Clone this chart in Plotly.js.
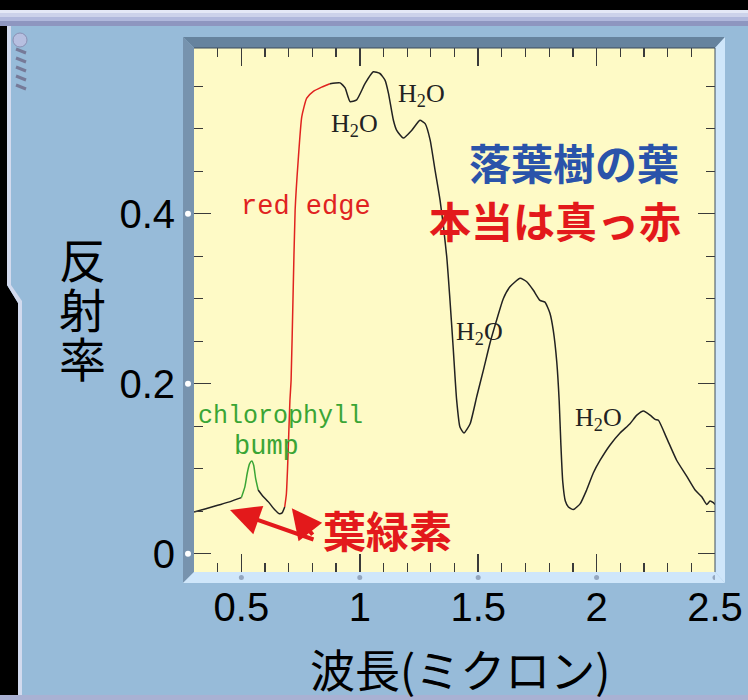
<!DOCTYPE html>
<html><head><meta charset="utf-8">
<script src="https://cdn.plot.ly/plotly-3.0.1.min.js"></script>
<style>html,body{margin:0;padding:0;background:#97bbd9;}#chart{width:748px;height:700px;}</style>
</head><body><div id="chart"></div>
<script>
// ---- data (wavelength in microns, reflectance) ----
const baseX = [0.30, 0.35, 0.40, 0.45, 0.50];
const baseY = [0.049, 0.053, 0.057, 0.061, 0.066];
const chloroX = [0.50, 0.515, 0.525, 0.535, 0.544, 0.552, 0.560, 0.571];
const chloroY = [0.066, 0.079, 0.095, 0.106, 0.109, 0.104, 0.089, 0.075];
const dipX = [0.571, 0.59, 0.614, 0.64, 0.66, 0.672, 0.683];
const dipY = [0.075, 0.068, 0.061, 0.052, 0.047, 0.048, 0.055];
const edgeX = [0.683, 0.690, 0.695, 0.700, 0.705, 0.710, 0.718, 0.727, 0.740, 0.755, 0.776, 0.804, 0.839, 0.874];
const edgeY = [0.055, 0.070, 0.100, 0.140, 0.180, 0.204, 0.300, 0.404, 0.463, 0.514, 0.536, 0.544, 0.549, 0.553];
const nirX = [0.874, 0.917, 0.938, 0.959, 0.987, 1.022, 1.057, 1.085, 1.107, 1.121, 1.142, 1.156, 1.184, 1.219, 1.254, 1.276, 1.297, 1.318, 1.339, 1.367, 1.381, 1.395, 1.409, 1.423, 1.440, 1.466, 1.494, 1.522, 1.550, 1.578, 1.606, 1.634, 1.677, 1.705, 1.733, 1.761, 1.782, 1.803, 1.817, 1.832, 1.842, 1.849, 1.857, 1.868, 1.881, 1.902, 1.931, 1.958, 1.986, 2.015, 2.057, 2.099, 2.141, 2.170, 2.198, 2.226, 2.247, 2.261, 2.296, 2.338, 2.381, 2.416, 2.444, 2.465, 2.479, 2.493, 2.500];
const nirY = [0.553, 0.554, 0.548, 0.532, 0.534, 0.553, 0.567, 0.565, 0.557, 0.542, 0.510, 0.498, 0.489, 0.498, 0.510, 0.506, 0.487, 0.451, 0.416, 0.350, 0.298, 0.240, 0.181, 0.149, 0.142, 0.153, 0.185, 0.216, 0.248, 0.275, 0.300, 0.314, 0.324, 0.320, 0.310, 0.298, 0.296, 0.283, 0.263, 0.225, 0.180, 0.130, 0.085, 0.062, 0.055, 0.052, 0.059, 0.075, 0.095, 0.110, 0.128, 0.142, 0.153, 0.163, 0.168, 0.163, 0.158, 0.157, 0.136, 0.110, 0.091, 0.075, 0.067, 0.058, 0.062, 0.060, 0.058];

const xTickVals = [0.5, 1, 1.5, 2, 2.5];
const xTickText = ['0.5', '1', '1.5', '2', '2.5'];
const yTickVals = [0, 0.2, 0.4];
const yTickText = ['0', '0.2', '0.4'];

const waterLabels = [
  {x: 0.976, y: 0.505}, {x: 1.259, y: 0.540}, {x: 1.507, y: 0.260}, {x: 2.008, y: 0.158}
];

// ---- pixel helpers for frame decorations ----
const L = 194, R = 715, T = 48, B = 572;
const px = v => (v - L) / (R - L);
const py = v => (B - v) / (B - T);
function poly(pts, color) {
  return {type: 'path', xref: 'paper', yref: 'paper', layer: 'above',
    path: 'M' + pts.map(p => px(p[0]) + ',' + py(p[1])).join('L') + 'Z',
    fillcolor: color, line: {width: 0}};
}
function rect(x0, y0, x1, y1, color) {
  return {type: 'rect', xref: 'paper', yref: 'paper', layer: 'above',
    x0: px(x0), x1: px(x1), y0: py(y0), y1: py(y1), fillcolor: color, line: {width: 0}};
}

const shapes = [
  // bevel frame
  poly([[183,37],[725,37],[715,48],[194,48]], '#66839e'),
  poly([[183,37],[194,48],[194,572],[183,583]], '#7793ae'),
  poly([[725,37],[725,583],[715,572],[715,48]], '#cfe6fa'),
  poly([[183,583],[725,583],[715,572],[194,572]], '#cfe6fa'),
  {type: 'line', xref: 'paper', yref: 'paper', x0: 0, x1: 1, y0: 1, y1: 1, line: {color: '#3c4c5c', width: 1.2}},
  {type: 'line', xref: 'paper', yref: 'paper', x0: 1, x1: 1, y0: 0, y1: 1, line: {color: '#3c4c5c', width: 1}},
  // window chrome
  rect(0, 0, 748, 10, '#000000'),
  rect(0, 10, 748, 13, '#e4e8f6'),
  rect(0, 13, 748, 17, '#ccd2ea'),
  rect(0, 17, 748, 21, '#b0b8dc'),
  rect(0, 21, 748, 26, '#8e96c0'),
  poly([[0,26],[7,26],[7,285],[18,303],[18,700],[0,700]], '#000000'),
  poly([[7,26],[11,26],[11,285],[22,301],[22,700],[18,700],[18,303],[7,285]], '#d2daee'),
  rect(0, 695, 748, 700, '#a9b1d3'),
  {type: 'circle', xref: 'paper', yref: 'paper', layer: 'above',
    x0: px(13), x1: px(27), y0: py(33), y1: py(47), fillcolor: '#b7bfe0', line: {color: '#8a90b4', width: 1}}
];
for (let i = 0; i < 5; i++) {
  const yy = 49 + i * 9;
  shapes.push({type: 'line', xref: 'paper', yref: 'paper', layer: 'above',
    x0: px(16), y0: py(yy), x1: px(26), y1: py(yy + 4), line: {color: '#767a98', width: 3}});
}
// dots on frame at tick positions
xTickVals.forEach(v => shapes.push({type: 'circle', xref: 'x', yref: 'paper', layer: 'above',
  xsizemode: 'pixel', ysizemode: 'pixel', xanchor: v, yanchor: 0,
  x0: -2.5, x1: 2.5, y0: -8, y1: -3, fillcolor: '#93a6bf', line: {width: 0}}));
yTickVals.forEach(v => shapes.push({type: 'circle', xref: 'paper', yref: 'y', layer: 'above',
  xsizemode: 'pixel', ysizemode: 'pixel', xanchor: 0, yanchor: v,
  x0: -9, x1: -3, y0: -3, y1: 3, fillcolor: '#ffffff', line: {width: 0}}));

const seg = (x, y, c) => ({x, y, type: 'scatter', mode: 'lines', hoverinfo: 'skip',
  line: {color: c, width: 1.5, shape: 'spline', smoothing: 0.5}, showlegend: false});
const traces = [
  seg(baseX, baseY, '#222222'),
  seg(chloroX, chloroY, '#3aa535'),
  seg(dipX, dipY, '#222222'),
  seg(edgeX, edgeY, '#e0231f'),
  seg(nirX, nirY, '#222222')
];

const serif = 'Liberation Serif, DejaVu Serif, serif';
const mono = 'Liberation Mono, DejaVu Sans Mono, monospace';
const cjk = 'Noto Sans CJK JP, sans-serif';
const annotations = [];
waterLabels.forEach(p => annotations.push({x: p.x, y: p.y, xref: 'x', yref: 'y', text: 'H<sub>2</sub>O',
  showarrow: false, font: {family: serif, size: 26, color: '#222222'}, xanchor: 'center', yanchor: 'middle'}));
annotations.push(
  {x: 0.773, y: 0.408, xref: 'x', yref: 'y', text: 'red edge', showarrow: false, xanchor: 'center', yanchor: 'middle',
    font: {family: mono, size: 27, color: '#e0231f'}},
  {x: 0.665, y: 0.161, xref: 'x', yref: 'y', text: 'chlorophyll', showarrow: false, xanchor: 'center', yanchor: 'middle',
    font: {family: mono, size: 25, color: '#3aa535'}},
  {x: 0.607, y: 0.126, xref: 'x', yref: 'y', text: 'bump', showarrow: false, xanchor: 'center', yanchor: 'middle',
    font: {family: mono, size: 27, color: '#3aa535'}},
  {x: 1.905, y: 0.461, xref: 'x', yref: 'y', text: '<b>落葉樹の葉</b>', showarrow: false, xanchor: 'center', yanchor: 'middle',
    font: {family: cjk, size: 42, color: '#2a53aa'}},
  {x: 1.823, y: 0.393, xref: 'x', yref: 'y', text: '<b>本当は真っ赤</b>', showarrow: false, xanchor: 'center', yanchor: 'middle',
    font: {family: cjk, size: 42, color: '#e3191b'}},
  {x: 1.119, y: 0.029, xref: 'x', yref: 'y', text: '<b>葉緑素</b>', showarrow: false, xanchor: 'center', yanchor: 'middle',
    font: {family: cjk, size: 43, color: '#e3191b'}},
  {x: 0.452, y: 0.0514, xref: 'x', yref: 'y', text: '', showarrow: true, ax: 85, ay: 30,
    arrowcolor: '#e3191b', arrowwidth: 4, arrowhead: 2, arrowsize: 1.5, standoff: 0},
  {x: 0.713, y: 0.0534, xref: 'x', yref: 'y', text: '', showarrow: true, ax: 22, ay: 28,
    arrowcolor: '#e3191b', arrowwidth: 4, arrowhead: 2, arrowsize: 1.5, standoff: 0},
  {x: px(460), y: py(668), xref: 'paper', yref: 'paper', text: '波長(ミクロン)', showarrow: false,
    xanchor: 'center', yanchor: 'middle', font: {family: cjk, size: 45, color: '#000000'}},
  {x: px(82), y: py(257), xref: 'paper', yref: 'paper', text: '反', showarrow: false, xanchor: 'center', yanchor: 'middle', font: {family: cjk, size: 47, color: '#000000'}},
  {x: px(82), y: py(307), xref: 'paper', yref: 'paper', text: '射', showarrow: false, xanchor: 'center', yanchor: 'middle', font: {family: cjk, size: 47, color: '#000000'}},
  {x: px(82), y: py(356), xref: 'paper', yref: 'paper', text: '率', showarrow: false, xanchor: 'center', yanchor: 'middle', font: {family: cjk, size: 47, color: '#000000'}}
);

const layout = {
  width: 748, height: 700,
  margin: {l: L, r: 748 - R, t: T, b: 700 - B, pad: 0},
  paper_bgcolor: '#97bbd9', plot_bgcolor: '#fefac6',
  showlegend: false,
  font: {family: 'Liberation Sans, Arial, sans-serif', color: '#000000'},
  xaxis: {range: [0.3, 2.5], tickmode: 'array', tickvals: xTickVals, ticktext: xTickText,
    ticks: 'inside', ticklen: 18, tickwidth: 1.5, tickcolor: '#3a3a3a', mirror: 'ticks',
    showgrid: false, zeroline: false, showline: false, ticklabelstandoff: 8,
    tickfont: {size: 40, family: 'Liberation Sans, Arial, sans-serif', color: '#000'},
    minor: {tickmode: 'linear', tick0: 0.3, dtick: 0.1, ticks: 'inside', ticklen: 9, tickwidth: 1.2, tickcolor: '#3a3a3a', showgrid: false}},
  yaxis: {range: [-0.0215, 0.595], tickmode: 'array', tickvals: yTickVals, ticktext: yTickText,
    ticks: 'inside', ticklen: 17, tickwidth: 1.5, tickcolor: '#3a3a3a', mirror: 'ticks',
    showgrid: false, zeroline: false, showline: false, ticklabelstandoff: 18,
    tickfont: {size: 40, family: 'Liberation Sans, Arial, sans-serif', color: '#000'},
    minor: {tickmode: 'linear', tick0: 0, dtick: 0.05, ticks: 'inside', ticklen: 9, tickwidth: 1.2, tickcolor: '#3a3a3a', showgrid: false}},
  shapes, annotations
};
Plotly.newPlot('chart', traces, layout, {staticPlot: true, displayModeBar: false});
</script></body></html>
